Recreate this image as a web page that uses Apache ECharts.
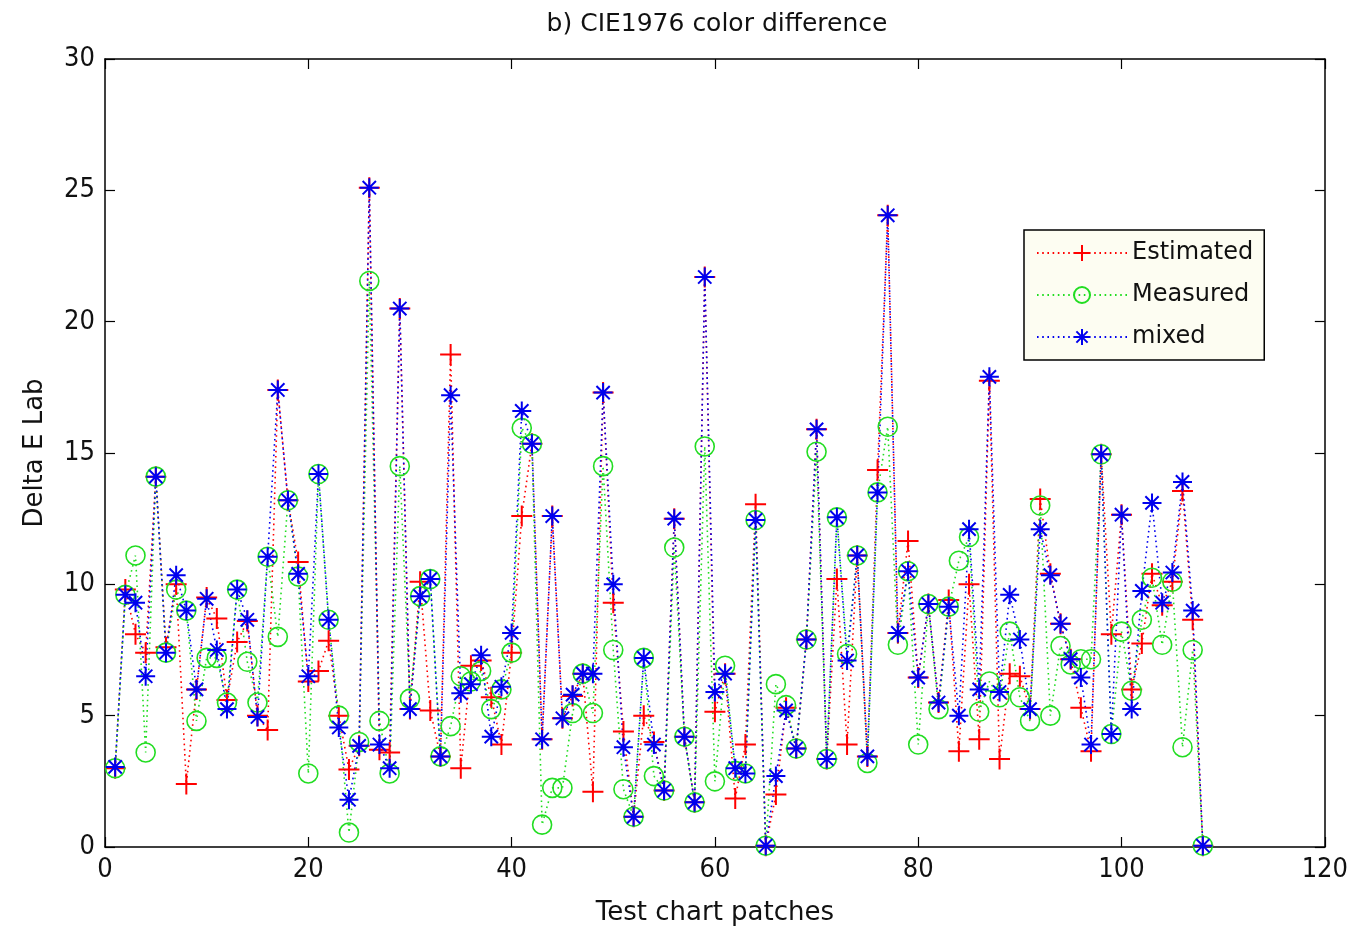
<!DOCTYPE html>
<html>
<head>
<meta charset="utf-8">
<script src="https://cdn.jsdelivr.net/npm/echarts@6/dist/echarts.min.js"></script>
<style>
html,body{margin:0;padding:0;background:#fff;}
#chart{width:1351px;height:931px;}
</style>
</head>
<body>
<div id="chart"></div>
<script>
const titleText = 'b) CIE1976 color difference';
const xName = 'Test chart patches';
const yName = 'Delta E Lab';
const seriesNames = ['Estimated', 'Measured', 'mixed'];

const estimated = [3.0,9.8,8.1,7.4,14.1,7.6,10.0,2.4,6.0,9.5,8.7,5.6,7.8,8.6,5.0,4.45,17.4,13.2,10.85,6.3,
6.7,7.85,5.0,2.95,3.85,25.1,3.7,3.6,20.5,5.25,10.1,5.2,3.45,18.75,3.0,6.9,7.1,5.7,3.9,7.4,
12.6,15.35,4.1,12.6,4.9,5.75,6.6,2.1,17.3,9.3,4.4,1.15,5.0,4.0,2.15,12.5,4.2,1.7,21.7,5.15,
6.6,1.85,3.9,13.05,0.05,2.0,5.3,3.75,7.9,15.9,3.35,10.2,3.9,11.1,3.45,14.35,24.05,8.15,11.65,6.45,
9.25,5.5,9.4,3.65,10.0,4.1,17.75,3.35,6.6,6.5,5.25,13.25,10.4,8.5,7.15,5.3,3.65,14.95,8.1,12.65,
6.0,7.75,10.4,9.2,10.1,13.55,8.65,0.05];

const measured = [3.0,9.6,11.1,3.6,14.1,7.4,9.8,9.0,4.8,7.2,7.2,5.5,9.8,7.05,5.5,11.05,8.0,13.2,10.3,2.8,
14.2,8.65,5.0,0.55,4.0,21.55,4.8,2.8,14.5,5.65,9.55,10.2,3.45,4.6,6.5,6.3,6.7,5.25,6.0,7.4,
15.95,15.35,0.85,2.25,2.25,5.1,6.6,5.1,14.5,7.5,2.2,1.15,7.2,2.7,2.15,11.4,4.2,1.7,15.25,2.5,
6.9,2.9,2.8,12.45,0.05,6.2,5.4,3.75,7.9,15.05,3.35,12.55,7.35,11.1,3.2,13.5,16.0,7.7,10.5,3.9,
9.25,5.25,9.15,10.9,11.8,5.15,6.3,5.7,8.2,5.7,4.8,13.0,5.0,7.65,6.95,7.15,7.15,14.95,4.3,8.2,
5.95,8.65,10.25,7.7,10.1,3.8,7.5,0.05];

const mixed = [3.05,9.6,9.3,6.5,14.1,7.4,10.35,9.0,6.0,9.45,7.5,5.25,9.8,8.65,4.95,11.05,17.4,13.2,10.4,6.5,
14.2,8.65,4.55,1.8,3.85,25.1,3.9,3.0,20.5,5.25,9.55,10.2,3.45,17.2,5.85,6.2,7.3,4.2,6.1,8.15,
16.6,15.35,4.1,12.6,4.9,5.8,6.6,6.6,17.3,10.0,3.8,1.15,7.2,3.9,2.15,12.5,4.2,1.7,21.7,5.9,
6.6,3.0,2.8,12.45,0.05,2.7,5.2,3.75,7.9,15.9,3.35,12.55,7.1,11.1,3.45,13.5,24.05,8.15,10.5,6.45,
9.25,5.5,9.15,5.0,12.1,6.0,17.9,5.9,9.6,7.9,5.25,12.1,10.35,8.5,7.15,6.45,3.9,14.95,4.3,12.65,
5.25,9.75,13.1,9.3,10.45,13.9,9.0,0.05];

const xTicks = {min: 0, max: 120, interval: 20};
const yTicks = {min: 0, max: 30, interval: 5};

const toPoints = arr => arr.map((v, i) => [i + 1, v]);

const TXT = "'DejaVu Sans', sans-serif";
const NUM = "'Liberation Sans Narrow', 'DejaVu Sans Condensed', 'Liberation Sans', sans-serif";
const RED = '#ff0000', GREEN = '#22dd22', BLUE = '#0000ee';
const plusSym = 'path://M0,-10L0,10M-10,0L10,0';
const starSym = 'path://M0,-10L0,10M-10,0L10,0M-7,-7L7,7M-7,7L7,-7';

const chart = echarts.init(document.getElementById('chart'));

function mkX(pos, labels) {
  return {
    type: 'value', position: pos, min: xTicks.min, max: xTicks.max, interval: xTicks.interval,
    name: labels ? xName : '', nameLocation: 'middle', nameGap: 53,
    nameTextStyle: {fontFamily: TXT, fontSize: 26, color: '#111'},
    axisLine: {show: true, onZero: false, lineStyle: {color: '#000', width: 1.5}},
    axisTick: {show: true, inside: true, length: 10, lineStyle: {color: '#000', width: 1.2}},
    axisLabel: {show: labels, fontFamily: NUM, fontSize: 27, color: '#111', margin: 9},
    splitLine: {show: false}
  };
}
function mkY(pos, labels) {
  return {
    type: 'value', position: pos, min: yTicks.min, max: yTicks.max, interval: yTicks.interval,
    name: labels ? yName : '', nameLocation: 'middle', nameGap: 57, nameRotate: 90,
    nameTextStyle: {fontFamily: TXT, fontSize: 26, color: '#111'},
    axisLine: {show: true, onZero: false, lineStyle: {color: '#000', width: 1.5}},
    axisTick: {show: true, inside: true, length: 10, lineStyle: {color: '#000', width: 1.2}},
    axisLabel: {show: labels, fontFamily: NUM, fontSize: 27, color: '#111', margin: 10},
    splitLine: {show: false}
  };
}

function mkSeries(name, arr, color, symbol, size, isCircle) {
  return {
    name: name, type: 'line', data: toPoints(arr),
    xAxisIndex: 0, yAxisIndex: 0,
    symbol: symbol, symbolSize: size, showSymbol: true,
    lineStyle: {type: [1.6, 3.6], width: 1.6, color: color},
    itemStyle: isCircle ? {color: 'rgba(255,255,255,0)', borderColor: color, borderWidth: 1.6}
                        : {color: color, borderColor: color, borderWidth: 2},
    emphasis: {disabled: true},
    animation: false
  };
}

chart.setOption({
  backgroundColor: '#ffffff',
  animation: false,
  title: {
    text: titleText, left: 712, top: 7, textAlign: 'center',
    textStyle: {fontFamily: TXT, fontSize: 25, fontWeight: 'normal', color: '#111'}
  },
  grid: {left: 105, right: 24, top: 59, bottom: 83, containLabel: false},
  xAxis: [mkX('bottom', true), mkX('top', false)],
  yAxis: [mkY('left', true), mkY('right', false)],
  legend: {
    orient: 'vertical', left: 1024, top: 230,
    backgroundColor: '#fdfdf2', borderColor: '#000', borderWidth: 1.5,
    padding: [11, 11, 11, 12], itemWidth: 90, itemHeight: 20, itemGap: 18,
    textStyle: {fontFamily: TXT, fontSize: 24, color: '#111'},
    data: seriesNames
  },
  series: [
    mkSeries(seriesNames[0], estimated, RED, plusSym, 21, false),
    mkSeries(seriesNames[1], measured, GREEN, 'circle', 19, true),
    mkSeries(seriesNames[2], mixed, BLUE, starSym, 19, false)
  ]
});
</script>
</body>
</html>
